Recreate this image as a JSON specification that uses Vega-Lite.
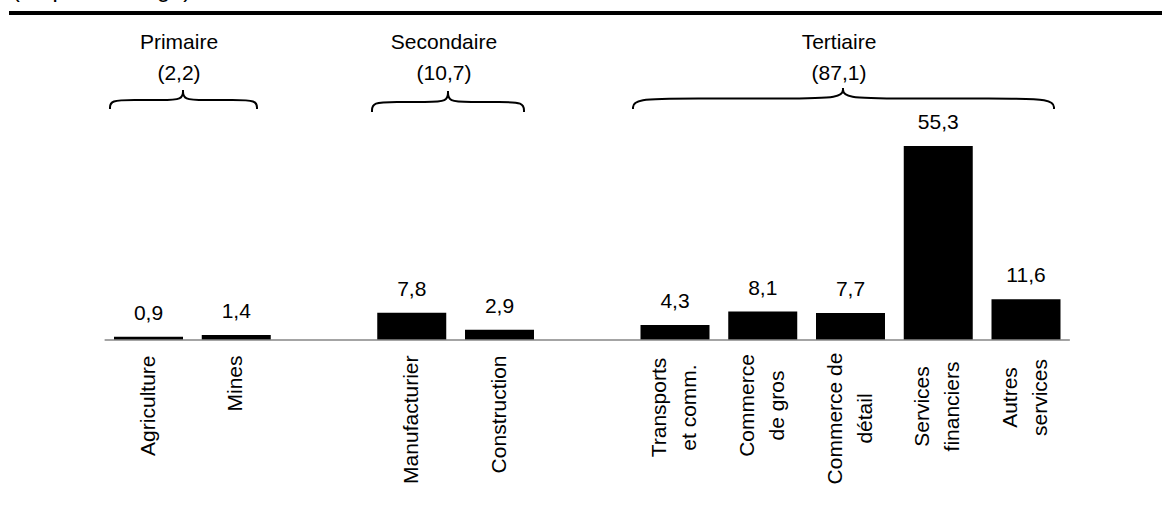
{
  "$schema": "https://vega.github.io/schema/vega-lite/v6.json",
  "width": 1153,
  "height": 327,
  "autosize": {"type": "none"},
  "padding": {"left": 9, "top": 13, "right": 0, "bottom": 166},
  "title": {
    "text": "(en pourcentage)",
    "anchor": "start",
    "frame": "group",
    "fontSize": 23.5,
    "fontWeight": "normal",
    "font": "Liberation Sans",
    "color": "black",
    "baseline": "alphabetic",
    "offset": -9,
    "dx": 3
  },
  "datasets": {
    "secteurs": [
      {"secteur": "Agriculture", "part": 0.9},
      {"secteur": "Mines", "part": 1.4},
      {"secteur": "Manufacturier", "part": 7.8},
      {"secteur": "Construction", "part": 2.9},
      {"secteur": "Transports|et comm.", "part": 4.3},
      {"secteur": "Commerce|de gros", "part": 8.1},
      {"secteur": "Commerce de|détail", "part": 7.7},
      {"secteur": "Services|financiers", "part": 55.3},
      {"secteur": "Autres|services", "part": 11.6}
    ],
    "groupes": [
      {"groupe": "Primaire", "total": 2.2, "pointe": 0.3932},
      {"groupe": "Secondaire", "total": 10.7, "pointe": 3.4131},
      {"groupe": "Tertiaire", "total": 87.1, "pointe": 7.9145}
    ],
    "accolades": [
      {"moitie": "P-g", "i": 0, "x": -0.4387, "y": 65.84},
      {"moitie": "P-g", "i": 1, "x": -0.4387, "y": 68.40},
      {"moitie": "P-g", "i": 2, "x": -0.1652, "y": 68.40},
      {"moitie": "P-g", "i": 3, "x": 0.1425, "y": 68.40},
      {"moitie": "P-g", "i": 4, "x": 0.3932, "y": 68.40},
      {"moitie": "P-g", "i": 5, "x": 0.3932, "y": 71.25},
      {"moitie": "P-d", "i": 0, "x": 0.3932, "y": 71.25},
      {"moitie": "P-d", "i": 1, "x": 0.3932, "y": 68.40},
      {"moitie": "P-d", "i": 2, "x": 0.6439, "y": 68.40},
      {"moitie": "P-d", "i": 3, "x": 0.9630, "y": 68.40},
      {"moitie": "P-d", "i": 4, "x": 1.2365, "y": 68.40},
      {"moitie": "P-d", "i": 5, "x": 1.2365, "y": 65.84},
      {"moitie": "S-g", "i": 0, "x": 2.5470, "y": 64.98},
      {"moitie": "S-g", "i": 1, "x": 2.5470, "y": 67.83},
      {"moitie": "S-g", "i": 2, "x": 2.8205, "y": 67.83},
      {"moitie": "S-g", "i": 3, "x": 3.1624, "y": 67.83},
      {"moitie": "S-g", "i": 4, "x": 3.4131, "y": 67.83},
      {"moitie": "S-g", "i": 5, "x": 3.4131, "y": 70.97},
      {"moitie": "S-d", "i": 0, "x": 3.4131, "y": 70.97},
      {"moitie": "S-d", "i": 1, "x": 3.4131, "y": 67.83},
      {"moitie": "S-d", "i": 2, "x": 3.6638, "y": 67.83},
      {"moitie": "S-d", "i": 3, "x": 4.0057, "y": 67.83},
      {"moitie": "S-d", "i": 4, "x": 4.2792, "y": 67.83},
      {"moitie": "S-d", "i": 5, "x": 4.2792, "y": 64.98},
      {"moitie": "T-g", "i": 0, "x": 5.5214, "y": 65.84},
      {"moitie": "T-g", "i": 1, "x": 5.5214, "y": 68.83},
      {"moitie": "T-g", "i": 2, "x": 6.2051, "y": 68.83},
      {"moitie": "T-g", "i": 3, "x": 7.2536, "y": 68.83},
      {"moitie": "T-g", "i": 4, "x": 7.9145, "y": 68.83},
      {"moitie": "T-g", "i": 5, "x": 7.9145, "y": 71.82},
      {"moitie": "T-d", "i": 0, "x": 7.9145, "y": 71.82},
      {"moitie": "T-d", "i": 1, "x": 7.9145, "y": 68.83},
      {"moitie": "T-d", "i": 2, "x": 8.5755, "y": 68.83},
      {"moitie": "T-d", "i": 3, "x": 9.6353, "y": 68.83},
      {"moitie": "T-d", "i": 4, "x": 10.3191, "y": 68.83},
      {"moitie": "T-d", "i": 5, "x": 10.3191, "y": 65.84}
    ]
  },
  "resolve": {"scale": {"x": "independent"}},
  "layer": [
    {
      "data": {"name": "secteurs"},
      "layer": [
        {
          "mark": {"type": "bar", "color": "black"},
          "encoding": {
            "x": {
              "field": "secteur",
              "type": "nominal",
              "scale": {
                "type": "band",
                "domain": ["_g", "Agriculture", "Mines", "_a", "Manufacturier", "Construction", "_b", "Transports|et comm.", "Commerce|de gros", "Commerce de|détail", "Services|financiers", "Autres|services", "_h"],
                "paddingInner": 0.2137,
                "paddingOuter": 0.1767,
                "align": 0.5565,
                "round": false
              },
              "axis": {
                "title": null,
                "domain": false,
                "ticks": false,
                "labelAngle": 270,
                "labelFont": "Liberation Sans",
                "labelFontSize": 21,
                "labelColor": "black",
                "labelLineHeight": 30,
                "labelBaseline": "middle",
                "labelOverlap": false,
                "labelBound": false,
                "labelFlush": false,
                "labelLimit": 400,
                "labelExpr": "indexof(datum.value, '_') == 0 ? '' : split(datum.value, '|')",
                "labelAlign": {"condition": {"test": "indexof(datum.value, '|') >= 0", "value": "center"}, "value": "right"},
                "labelOffset": {"condition": {"test": "indexof(datum.value, '|') >= 0", "value": -15}, "value": 0},
                "labelPadding": {
                  "condition": [
                    {"test": "datum.value == 'Transports|et comm.'", "value": 67},
                    {"test": "datum.value == 'Commerce|de gros'", "value": 65},
                    {"test": "datum.value == 'Commerce de|détail'", "value": 78},
                    {"test": "datum.value == 'Services|financiers'", "value": 66},
                    {"test": "datum.value == 'Autres|services'", "value": 57}
                  ],
                  "value": 15
                }
              }
            },
            "y": {
              "field": "part",
              "type": "quantitative",
              "scale": {"domain": [0, 93.2], "nice": false},
              "axis": null
            }
          }
        },
        {
          "mark": {"type": "text", "dy": -17, "baseline": "alphabetic", "align": "center", "fontSize": 21, "font": "Liberation Sans", "color": "black"},
          "encoding": {
            "x": {"field": "secteur", "type": "nominal"},
            "y": {"field": "part", "type": "quantitative"},
            "text": {"field": "part", "type": "quantitative", "format": ".1f"}
          }
        }
      ]
    },
    {
      "layer": [
        {
          "data": {"values": [{}]},
          "mark": {"type": "rule", "strokeWidth": 4, "color": "black"},
          "encoding": {
            "y": {"datum": 93.2, "type": "quantitative", "scale": {"domain": [0, 93.2], "nice": false}, "axis": null}
          }
        },
        {
          "data": {"values": [{}]},
          "mark": {"type": "rule", "strokeWidth": 1.5, "color": "#868686"},
          "encoding": {
            "x": {"datum": -0.5, "type": "quantitative", "scale": {"domain": [-1.5897, 11.55], "nice": false, "zero": false}, "axis": null},
            "x2": {"datum": 10.5},
            "y": {"datum": 0, "type": "quantitative"}
          }
        },
        {
          "data": {"name": "accolades"},
          "mark": {"type": "line", "interpolate": "basis", "color": "black", "strokeWidth": 2},
          "encoding": {
            "x": {"field": "x", "type": "quantitative"},
            "y": {"field": "y", "type": "quantitative"},
            "detail": {"field": "moitie", "type": "nominal"},
            "order": {"field": "i", "type": "quantitative"}
          }
        },
        {
          "data": {"name": "groupes"},
          "transform": [
            {"calculate": "[datum.groupe, '(' + replace(format(datum.total, '.1f'), '.', ',') + ')']", "as": "etiquette"}
          ],
          "mark": {"type": "text", "dx": -4, "align": "center", "baseline": "alphabetic", "fontSize": 21, "font": "Liberation Sans", "color": "black", "lineHeight": 31},
          "encoding": {
            "x": {"field": "pointe", "type": "quantitative"},
            "y": {"datum": 82.94, "type": "quantitative"},
            "text": {"field": "etiquette"}
          }
        }
      ]
    }
  ],
  "config": {
    "view": {"stroke": null},
    "font": "Liberation Sans",
    "locale": {
      "number": {"decimal": ",", "thousands": " ", "grouping": [3], "currency": ["", " €"]}
    }
  }
}
